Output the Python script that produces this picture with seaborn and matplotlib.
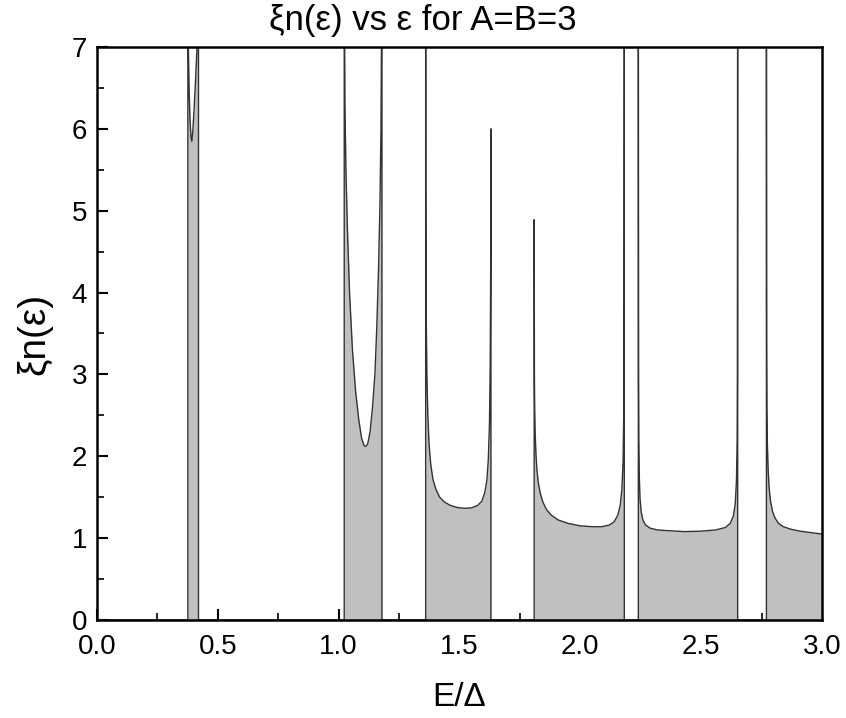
import numpy as np
import matplotlib
matplotlib.use("Agg")
import matplotlib.pyplot as plt
from matplotlib.ticker import MultipleLocator
import seaborn as sns
import pandas as pd

# ---- data (E/Delta, xi*n(eps)); 8.0 = off-scale spike ----
gap_start_E = [0.0]
gap_start_N = [0.0]

band1_E = [0.376, 0.376, 0.378, 0.381, 0.385, 0.389, 0.392, 0.396, 0.401, 0.407, 0.414, 0.420, 0.420]
band1_N = [0.0, 8.0, 7.0, 6.5, 6.1, 5.9, 5.85, 5.95, 6.2, 6.55, 7.0, 8.0, 0.0]

band2_E = [1.023, 1.023, 1.026, 1.030, 1.036, 1.045, 1.057, 1.070, 1.083, 1.095, 1.105, 1.112,
           1.120, 1.130, 1.140, 1.150, 1.158, 1.165, 1.171, 1.175, 1.179, 1.179]
band2_N = [0.0, 8.0, 6.3, 5.5, 4.8, 4.0, 3.3, 2.8, 2.45, 2.22, 2.13, 2.12,
           2.15, 2.3, 2.6, 3.0, 3.6, 4.3, 5.1, 6.0, 8.0, 0.0]

band3_E = [1.360, 1.360, 1.3605, 1.362, 1.365, 1.369, 1.374, 1.381, 1.390, 1.402, 1.418, 1.438,
           1.462, 1.490, 1.520, 1.550, 1.575, 1.592, 1.604, 1.613, 1.619, 1.624, 1.627, 1.629,
           1.630, 1.630]
band3_N = [0.0, 8.0, 5.2, 3.8, 3.0, 2.5, 2.15, 1.9, 1.72, 1.6, 1.5, 1.44,
           1.4, 1.375, 1.365, 1.37, 1.4, 1.45, 1.55, 1.7, 1.95, 2.4, 3.1, 4.3,
           6.0, 0.0]

band4_E = [1.809, 1.809, 1.8095, 1.810, 1.811, 1.813, 1.816, 1.820, 1.826, 1.834, 1.845, 1.860,
           1.880, 1.910, 1.950, 2.000, 2.050, 2.090, 2.120, 2.140, 2.155, 2.165, 2.172, 2.177,
           2.180, 2.181, 2.182, 2.182]
band4_N = [0.0, 4.89, 3.8, 3.0, 2.6, 2.3, 2.05, 1.85, 1.68, 1.55, 1.44, 1.35,
           1.28, 1.22, 1.18, 1.15, 1.14, 1.14, 1.16, 1.2, 1.28, 1.4, 1.6, 1.95,
           2.6, 3.6, 8.0, 0.0]

band5_E = [2.240, 2.240, 2.2405, 2.241, 2.242, 2.244, 2.247, 2.252, 2.259, 2.270, 2.290, 2.320,
           2.370, 2.430, 2.500, 2.560, 2.600, 2.620, 2.633, 2.641, 2.646, 2.649, 2.650, 2.651,
           2.651]
band5_N = [0.0, 8.0, 5.6, 3.0, 2.2, 1.75, 1.48, 1.32, 1.22, 1.16, 1.12, 1.10,
           1.09, 1.08, 1.085, 1.1, 1.13, 1.18, 1.27, 1.42, 1.7, 2.2, 3.0, 8.0,
           0.0]

band6_E = [2.770, 2.770, 2.7705, 2.771, 2.772, 2.774, 2.777, 2.781, 2.787, 2.795, 2.805, 2.820,
           2.840, 2.870, 2.910, 2.950, 3.000]
band6_N = [0.0, 8.0, 5.5, 3.4, 2.6, 2.15, 1.85, 1.62, 1.45, 1.33, 1.25, 1.18,
           1.14, 1.11, 1.085, 1.07, 1.05]

x_ticks = [0.0, 0.5, 1.0, 1.5, 2.0, 2.5, 3.0]
y_ticks = [0, 1, 2, 3, 4, 5, 6, 7]

title_text = "ξn(ε) vs ε for A=B=3"
x_label = "E/Δ"
y_label = "ξn(ε)"

E = gap_start_E + band1_E + band2_E + band3_E + band4_E + band5_E + band6_E
N = gap_start_N + band1_N + band2_N + band3_N + band4_N + band5_N + band6_N
df = pd.DataFrame({"E": E, "N": N})

sns.set_theme(style="white")
plt.rcParams["font.family"] = ["Liberation Sans", "DejaVu Sans"]
plt.rcParams["text.color"] = "black"
plt.rcParams["axes.labelcolor"] = "black"

fig = plt.figure(figsize=(8.46, 7.18), dpi=100)
ax = fig.add_axes([97 / 846, 1 - 620 / 718, 725 / 846, 573 / 718])

ax.fill_between(df["E"], df["N"], 0, color="#c0c0c0", linewidth=0, zorder=1)
sns.lineplot(data=df, x="E", y="N", sort=False, estimator=None, ax=ax,
             color="#333333", linewidth=1.0, zorder=2)

ax.set_xlim(0, 3.0)
ax.set_ylim(0, 7)
ax.set_xticks(x_ticks)
ax.set_xticklabels([f"{t:.1f}" for t in x_ticks])
ax.set_yticks(y_ticks)
ax.set_yticklabels([str(t) for t in y_ticks])
ax.xaxis.set_minor_locator(MultipleLocator(0.25))
ax.yaxis.set_minor_locator(MultipleLocator(0.5))
ax.tick_params(which="both", direction="in", top=False, right=False,
               bottom=True, left=True, colors="black", labelcolor="black", labelsize=20)
ax.tick_params(which="major", length=8, width=1.5)
ax.tick_params(which="minor", length=5, width=1.2)
ax.tick_params(axis="x", which="major", pad=10)
ax.tick_params(axis="y", which="major", pad=7)

for s in ax.spines.values():
    s.set_visible(True)
    s.set_color("black")
    s.set_linewidth(1.8)

fig.suptitle(title_text, fontsize=25, x=0.5, y=0.995, va="top", color="black")
ax.set_xlabel(x_label, fontsize=24, labelpad=16)
ax.set_ylabel(y_label, fontsize=28, labelpad=14)

fig.savefig("out.png", dpi=100)
